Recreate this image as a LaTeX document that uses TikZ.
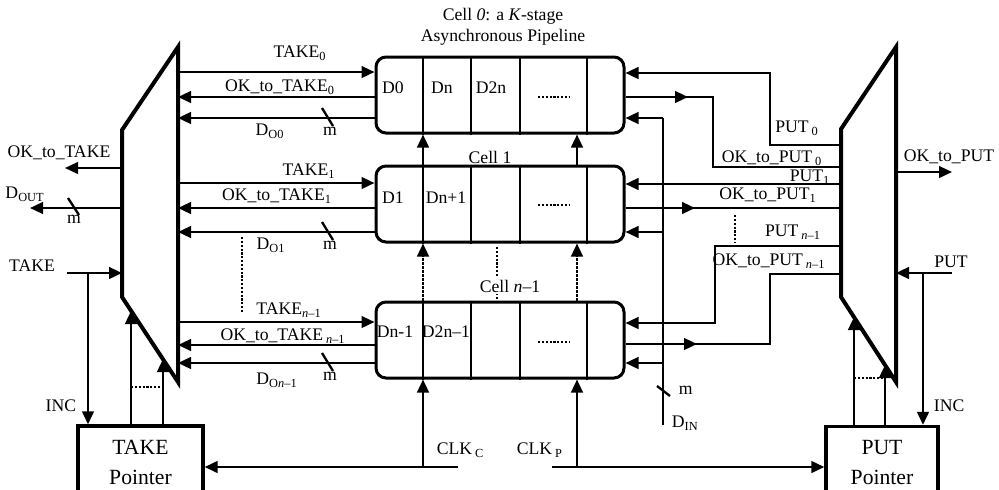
\documentclass[tikz,border=0pt]{standalone}
\usepackage{fontspec}
\setmainfont{Liberation Serif}
\usetikzlibrary{arrows.meta, positioning}
\tikzset{
	wire/.style={line width=1.4pt},
	arr/.style={wire, -{Triangle[length=7.8pt,width=7pt]}},
	dots/.style={line width=1.3pt, densely dotted},
	mux/.style={line width=2.4pt, line join=miter},
	cellbox/.style={draw, line width=1.8pt, rounded corners=6pt, minimum width=148.8pt, minimum height=45.6pt, inner sep=0pt},
	ptrbox/.style={draw, line width=2pt, minimum height=43.2pt, align=center, font=\fontsize{13}{18}\selectfont}
}
\newcommand{\sbs}[1]{\textsubscript{#1}}

\begin{document}
\begin{tikzpicture}[x=0.6pt, y=-0.6pt, font=\fontsize{10.6}{12.4}\selectfont]
  \useasboundingbox (0,0) rectangle (999,489);
  % the two multiplexers
  \draw[mux] (178,47) coordinate (tmux) -- (122,130) coordinate (tmuxl) -- (122,297) -- (178,382) -- cycle;
  \draw[mux] (896,47) coordinate (pmuxr) -- (841,129) coordinate (pmux) -- (841,297) -- (896,382) -- cycle;

  % cells of the pipeline
  \node[cellbox] (c0) at (500,95) {};
  \node[cellbox] (c1) at (500,204) {};
  \node[cellbox] (cn) at (500,340) {};
  \foreach \c in {c0,c1,cn}
    \foreach \x in {423,471,520,587}
      \draw[wire] (\c.north -| \x,0) -- (\c.south -| \x,0);
  \foreach \x/\y/\t/\n in {393/88/D0/a, 442/88/Dn/b, 491/88/D2n/c, 393/198/D1/d, 446/198/Dn+1/e, 395/332/Dn-1/f, 446/332/D2n--1/g}
    \node (st\n) at (\x,\y) {\t};
  \foreach \y in {97,205,342}
    \draw[dots] (538,\y) -- (569,\y);
  \node[align=center] (title) at (503,27) {Cell \textit{0}: a \textit{K}-stage\\Asynchronous Pipeline};
  \node (cl1) at (490,157) {Cell 1};

  % clocks through the stages
  \coordinate (clkc) at (423,467);
  \coordinate (clkp) at (577,467);
  \draw[arr] (c1.north -| clkc) -- (c0.south -| clkc);
  \draw[arr] (c1.north -| clkp) -- (c0.south -| clkp);
  \draw[arr, densely dotted] (cn.north -| clkc) -- (c1.south -| clkc);
  \draw[arr, densely dotted] (cn.north -| clkp) -- (c1.south -| clkp);
  \draw[dots] (497,247) -- (cn.north -| 497,0);
  \node[fill=white, inner sep=1pt] (cln) at (510,286) {Cell \textit{n}--1};
  \draw[arr] (clkc) -- (cn.south -| clkc);
  \draw[arr] (clkp) -- (cn.south -| clkp);

  % pointers
  \node[ptrbox, minimum width=75pt] (tp) at (140.5,462) {TAKE\\Pointer};
  \node[ptrbox, minimum width=67.2pt] (pp) at (882,462.5) {PUT\\Pointer};
  \draw[arr] ([xshift=21pt]clkc) -- (tp.east |- clkc);
  \draw[arr] ([xshift=-15pt]clkp) -- (pp.west |- clkp);
  \node[anchor=west] (clkcl) at (431,450) {CLK\,\sbs{C}};
  \node[anchor=west] (clkpl) at (511,450) {CLK\,\sbs{P}};

  % take side
  \foreach \c/\yt/\yo/\yd in {c0/72/97/118, c1/183/208/232, cn/322/345/363} {
    \draw[arr] (tmux |- 0,\yt) -- (\c.west |- 0,\yt);
    \draw[arr] (\c.west |- 0,\yo) -- (tmux |- 0,\yo);
    \draw[arr] (\c.west |- 0,\yd) -- (tmux |- 0,\yd);
    \draw[wire] (322,\yd-10) -- ++(11,18);
    \node (m\c) at (330,\yd+13) {m};
  }
  \node (tk0) at (300,53) {TAKE\sbs{0}};
  \node (ok0) at (280,87) {OK\_to\_TAKE\sbs{0}};
  \node (do0) at (270,131) {D\sbs{O0}};
  \node (tk1) at (309,171) {TAKE\sbs{1}};
  \node (ok1) at (277,196) {OK\_to\_TAKE\sbs{1}};
  \node (do1) at (271,245) {D\sbs{O1}};
  \node (tkn) at (289,310) {TAKE\sbs{\textit{n}--1}};
  \node (okn) at (283,336) {OK\_to\_TAKE\,\sbs{\textit{n}--1}};
  \node (don) at (277,380) {D\sbs{O\textit{n}--1}};
  \draw[dots] (242,237) -- (242,312);

  \coordinate (oktake) at (65,168);
  \coordinate (dout) at (30,208);
  \coordinate (takein) at (67,273);
  \draw[arr] (tmuxl |- oktake) -- (oktake);
  \draw[arr] (tmuxl |- dout) -- (dout);
  \draw[arr] (takein) -- (tmuxl |- takein);
  \draw[wire] (68,198) -- ++(11,17);
  \node (mdout) at (74,219) {m};
  \node (oktakel) at (59,153) {OK\_to\_TAKE};
  \node (doutl) at (25,194) {D\sbs{OUT}};
  \node (takel) at (32,266) {TAKE};
  \draw[arr] (88,273) -- (tp.north -| 88,0);
  \node[anchor=east] (incl) at (82,406) {INC};
  \draw[arr] (tp.north -| 131,0) -- (131,311);
  \draw[arr] (tp.north -| 163,0) -- (163,359);
  \draw[dots] (131,387) -- (163,387);

  % put side
  \draw[arr] (pmux |- 0,145) -| (770,73) -- (c0.east |- 0,73);
  \draw[arr] (c0.east |- 0,97) -- (688,97);
  \draw[wire] (680,97) -- (713,97) |- (pmux |- 0,167);
  \draw[arr] (pmux |- 0,184) -- (c1.east |- 0,184);
  \draw[arr] (c1.east |- 0,208) -- (695,208);
  \draw[wire] (690,208) -- (pmux |- 0,208);
  \draw[arr] (pmux |- 0,246) -| (715,323) -- (cn.east |- 0,323);
  \draw[arr] (cn.east |- 0,344) -- (697,344);
  \draw[wire] (690,344) -- (770,344) |- (pmux |- 0,274);
  \draw[dots] (735,215) -- (735,243);
  \node (pt0) at (797,128) {PUT\,\sbs{0}};
  \node (opt0) at (772,158) {OK\_to\_PUT\,\sbs{0}};
  \node (pt1) at (810,177) {PUT\sbs{1}};
  \node (opt1) at (768,195) {OK\_to\_PUT\sbs{1}};
  \node (ptn) at (793,232) {PUT\,\sbs{\textit{n}--1}};
  \node (optn) at (769,261) {OK\_to\_PUT\,\sbs{\textit{n}--1}};

  \coordinate (din) at (663,425);
  \draw[wire] (din) -- (663,118);
  \foreach \c/\y in {c0/118, c1/232, cn/363}
    \draw[arr] (din |- 0,\y) -- (\c.east |- 0,\y);
  \draw[wire] (657,386) -- (670,396);
  \node[anchor=west] (mdin) at (673,390) {m};
  \node[anchor=west] (dinl) at (666,423) {D\sbs{IN}};

  \coordinate (okput) at (952,172);
  \coordinate (putin) at (952,273);
  \draw[arr] (pmuxr |- okput) -- (okput);
  \draw[arr] (putin) -- (pmuxr |- putin);
  \node (okputl) at (949,157) {OK\_to\_PUT};
  \node (putl) at (951,262) {PUT};
  \draw[arr] (923,273) -- (pp.north -| 923,0);
  \node[anchor=west] (incr) at (928,406) {INC};
  \draw[arr] (pp.north -| 854,0) -- (854,317);
  \draw[arr] (pp.north -| 885,0) -- (885,365);
  \draw[dots] (854,378) -- (885,378);
\end{tikzpicture}
\end{document}
